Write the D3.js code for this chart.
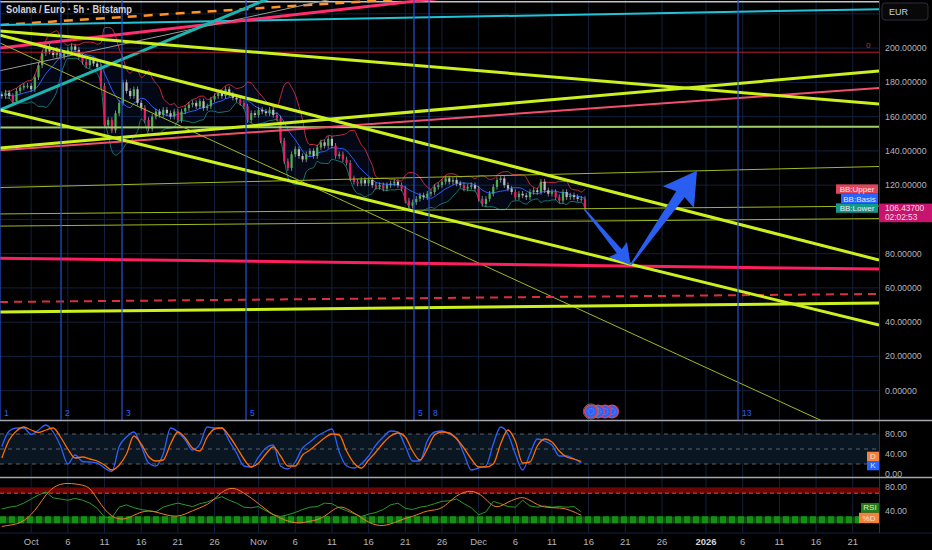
<!DOCTYPE html>
<html><head><meta charset="utf-8">
<script src="https://cdn.jsdelivr.net/npm/d3@7"></script>
<style>
body{margin:0;background:#000;overflow:hidden}
text{font-family:"Liberation Sans",Arial,sans-serif}
</style></head>
<body><svg id="c" width="932" height="550"></svg>
<script>
// ---------------- DATA ----------------
const title = "Solana / Euro · 5h · Bitstamp";
const domainStart = "2025-09-26T18:00Z";
const domainEnd = "2026-01-24T14:00Z";
const barStart = "2025-09-26T12:00Z";   // 12h bars
const closes = [
 173,172,174,172,169,175,177,178,178,176,
 183,190,197,201,198,196,199,195,197,199,
 201,199,195,192,190,193,191,189,178,155,
 158,152,162,168,180,175,172,176,168,165,
 158,153,160,163,161,164,162,160,163,158,
 163,165,167,168,166,169,165,166,170,172,
 174,172,176,173,171,170,168,166,158,162,
 161,164,163,162,164,161,159,146,134,130,
 138,141,137,135,138,140,137,142,145,143,
 147,143,137,138,135,133,124,122,121,123,
 121,123,120,119,120,118,120,121,122,120,
 118,111,108,110,112,114,113,115,116,119,
 120,122,124,122,123,121,120,118,119,120,
 118,112,109,112,115,119,123,124,120,118,
 116,113,115,114,113,116,117,116,122,117,
 115,116,113,111,116,113,114,113,112,112,106.437
];
const lastPriceText = "106.43700";
const countdownText = "02:02:53";
const oscStart = "2025-09-27T00:00Z";   // daily oscillator samples
const stochK = [55,86,92,92,79,88,98,84,56,20,38,25,24,22,12,5,55,74,84,56,22,16,40,92,84,68,48,60,94,92,92,66,42,16,14,34,52,58,16,10,24,52,64,76,84,90,44,16,12,20,36,58,74,86,84,56,26,26,66,84,86,80,72,40,8,12,16,60,94,80,40,8,40,70,66,58,36,36,30,22];
const stochD = [32,68,86,94,88,83,88,92,74,50,32,34,30,26,18,8,18,40,76,60,35,26,28,60,84,72,52,46,74,90,92,76,54,30,14,22,40,54,36,16,16,38,48,60,72,80,78,46,22,12,28,44,62,76,82,74,46,28,50,78,84,82,70,52,30,14,14,20,60,88,66,22,24,56,70,64,46,34,30,25];
const rsiVals = [43,46,48,53,60,67,72,62,60,58,61,58,53,44,29,28,46,50,45,42,40,38,46,50,53,50,47,52,55,60,64,58,53,46,45,47,40,33,30,33,37,42,46,47,53,52,45,40,35,30,34,37,42,50,53,44,42,46,48,52,56,57,60,52,45,33,38,56,52,47,46,58,48,46,48,46,47,46,47,38];
const rsiSmooth = [13,15,17,22,33,48,68,80,86,87,86,84,80,60,42,30,25,26,32,38,40,38,34,31,30,34,40,45,50,60,72,79,78,70,62,52,42,33,27,22,19,19,22,24,30,40,48,44,36,28,20,15,14,17,22,27,30,35,40,41,44,55,66,72,74,70,60,46,47,55,60,64,58,50,46,45,45,43,38,32];
const priceTicks = [0,20,40,60,80,100,120,140,160,180,200,220];
const priceLabels = [0,20,40,60,80,100,120,140,160,180,200];
const stochTicks = [80,40,0];
const rsiTicks = [80,40];
const dateTicks = ["2025-10-01","2025-10-06","2025-10-11","2025-10-16","2025-10-21","2025-10-26","2025-11-01","2025-11-06","2025-11-11","2025-11-16","2025-11-21","2025-11-26","2025-12-01","2025-12-06","2025-12-11","2025-12-16","2025-12-21","2025-12-26","2026-01-01","2026-01-06","2026-01-11","2026-01-16","2026-01-21"];
const dateLabels = ["Oct","6","11","16","21","26","Nov","6","11","16","21","26","Dec","6","11","16","21","26","2026","6","11","16","21"];
// trend lines: price at domain start / domain end, and kind
const lineStart = [227.1,213.5,213.5,200.1,186.8,163.9,197.6,153.6,140.4,118.6,103.2,96.1,203.0,77.4,51.8,210.0,207.6,141.7,163.9,45.9];
const lineEnd   = [227.1,246.8,222.7,258.0,297.7,376.8,197.6,154.1,176.7,130.9,107.8,100.5,-32.9,71.0,56.5,167.4,76.3,186.6,38.3,51.2];
const lineKind  = ["gray","orangeDash","cyan","pink","grayThin","teal","redThin","lightGreen","pinkMid","olive","olive","olive","olive","pinkThick","redDash","lime","lime","lime","lime","lime"];
const fibDates = ["2025-09-26T18:00Z","2025-10-05T01:40Z","2025-10-13T09:10Z","2025-10-30T07:00Z","2025-11-22T04:30Z","2025-11-24T05:45Z","2026-01-05T08:40Z"];
const fibLabels = ["1","2","3","5","5","8","13"];
const arrowFrom = [["2025-12-15T12:15Z",105.5],["2025-12-21T17:30Z",73.4]];
const arrowTo   = [["2025-12-21T17:30Z",73.4],["2025-12-30T18:30Z",128.4]];
const bbPeriod = 8, bbMult = 2;

// ---------------- STYLES ----------------
const lineStyle = {
 gray:{c:"#c4c4c4",w:1.5}, orangeDash:{c:"#ff9326",w:2.5,d:"9,7"}, cyan:{c:"#22c3d6",w:2},
 pink:{c:"#ff2e6e",w:3}, grayThin:{c:"#9a9a9a",w:1}, teal:{c:"#1bb5b0",w:3},
 redThin:{c:"#b3202e",w:1}, lightGreen:{c:"#9fce6a",w:2}, pinkMid:{c:"#f0506e",w:2},
 olive:{c:"#a3b81c",w:1}, pinkThick:{c:"#ff1f5f",w:3}, redDash:{c:"#d9303f",w:2,d:"8,6"},
 lime:{c:"#ccf01e",w:3}
};
const gridC = "#13203d", axisTxt = "#b2b5be";

// ---------------- SCALES ----------------
const parse = d3.utcParse("%Y-%m-%dT%H:%MZ");
const parseDay = d3.utcParse("%Y-%m-%d");
const PW = 879;
const x = d3.scaleUtc().domain([parse(domainStart), parse(domainEnd)]).range([0, PW]);
const y = d3.scaleLinear().domain([-17.1, 228.1]).range([420, 0]);
const yS = d3.scaleLinear().domain([0, 100]).range([474, 424]);
const yR = d3.scaleLinear().domain([0, 100]).range([534, 475.7]);
const H12 = 12*3600e3, D1 = 24*3600e3;
const t0 = parse(barStart).getTime(), o0 = parse(oscStart).getTime();

const svg = d3.select("#c");
svg.append("rect").attr("width",932).attr("height",550).attr("fill","#000");
const defs = svg.append("defs");
function clip(id,x0,y0,w,h){defs.append("clipPath").attr("id",id).append("rect").attr("x",x0).attr("y",y0).attr("width",w).attr("height",h);}
clip("cm",0,0,PW,420); clip("cs",0,421,PW,56); clip("cr",0,478,PW,54.5);

// grid
const g = svg.append("g");
g.selectAll(".hg").data(priceTicks).join("line").attr("x1",0).attr("x2",PW)
 .attr("y1",d=>y(d)).attr("y2",d=>y(d)).attr("stroke",gridC).attr("stroke-width",1);
g.selectAll(".vg").data(dateTicks).join("line").attr("x1",d=>x(parseDay(d))).attr("x2",d=>x(parseDay(d)))
 .attr("y1",0).attr("y2",533).attr("stroke",gridC).attr("stroke-width",1);
g.append("line").attr("x1",0).attr("x2",932).attr("y1",533).attr("y2",533).attr("stroke",gridC);
g.append("line").attr("x1",PW+0.5).attr("x2",PW+0.5).attr("y1",0).attr("y2",533).attr("stroke","#1b3360");

// ---------------- MAIN PANE ----------------
const main = svg.append("g").attr("clip-path","url(#cm)");
const bars = closes.map((c,i)=>{const o = i>0?closes[i-1]:c; return {t:new Date(t0+i*H12), o, c};});
// Bollinger bands
const bb = bars.map((b,i)=>{
 if(i<2) return null;
 const win = closes.slice(Math.max(0,i-bbPeriod+1), i+1);
 const m = d3.mean(win), s = d3.deviation(win);
 return {t:b.t, m, u:m+bbMult*s, l:m-bbMult*s};
}).filter(Boolean);
main.append("path").datum(bb).attr("fill","rgba(41,98,255,0.08)")
 .attr("d",d3.area().x(d=>x(d.t)).y0(d=>y(d.l)).y1(d=>y(d.u)).curve(d3.curveMonotoneX));
const bl = k=>d3.line().x(d=>x(d.t)).y(d=>y(d[k])).curve(d3.curveMonotoneX);
main.append("path").datum(bb).attr("fill","none").attr("stroke","#c62a3c").attr("stroke-width",1).attr("d",bl("u"));
main.append("path").datum(bb).attr("fill","none").attr("stroke","#2962ff").attr("stroke-width",1).attr("d",bl("m"));
main.append("path").datum(bb).attr("fill","none").attr("stroke","#16786d").attr("stroke-width",1).attr("d",bl("l"));
const bbAt = new Map(bb.map(d=>[+d.t,d]));
// candles
const cg = main.append("g");
bars.forEach((b,i)=>{
 const cx = x(b.t), hi = Math.max(b.o,b.c)+1.6, lo = Math.min(b.o,b.c)-1.6;
 const band = bbAt.get(+b.t);
 const up = b.c>=b.o;
 const col = up ? "#4caf50" : (band && b.c < band.m - (band.m-band.l)*0.6 ? "#e91e63" : "#bdbdbd");
 cg.append("line").attr("x1",cx).attr("x2",cx).attr("y1",y(hi)).attr("y2",y(lo)).attr("stroke","#9e9e9e").attr("stroke-width",0.8);
 const top = y(Math.max(b.o,b.c)), h = Math.max(1, Math.abs(y(b.o)-y(b.c)));
 cg.append("rect").attr("x",cx-1.1).attr("y",top).attr("width",2.2).attr("height",h).attr("fill",col);
});
// trend lines
const tA = parse(domainStart), tB = parse(domainEnd);
lineKind.forEach((k,i)=>{
 const s = lineStyle[k];
 main.append("line").attr("x1",x(tA)).attr("y1",y(lineStart[i])).attr("x2",x(tB)).attr("y2",y(lineEnd[i]))
  .attr("stroke",s.c).attr("stroke-width",s.w).attr("stroke-dasharray",s.d||null).attr("stroke-linecap","butt");
});
// fib time zones
fibDates.forEach((d,i)=>{
 const fx = x(parse(d));
 main.append("line").attr("x1",fx).attr("x2",fx).attr("y1",0).attr("y2",420).attr("stroke","#2453d6").attr("stroke-width",1.2);
 main.append("text").attr("x",fx+4).attr("y",416).attr("fill","#2962ff").attr("font-size",8.5).text(fibLabels[i]);
});
// arrows
function arrowPts(x0,y0,x1,y1){
 const dx=x1-x0, dy=y1-y0, L=Math.hypot(dx,dy), ux=dx/L, uy=dy/L, nx=-uy, ny=ux;
 const h=0.25*L, hw=0.165*L, nk=0.045*L, tl=0.8;
 const bx=x1-ux*h, by=y1-uy*h, wx=x1-ux*(h+0.03*L), wy=y1-uy*(h+0.03*L);
 return [[x0+nx*tl,y0+ny*tl],[bx+nx*nk,by+ny*nk],[wx+nx*hw,wy+ny*hw],[x1,y1],[wx-nx*hw,wy-ny*hw],[bx-nx*nk,by-ny*nk],[x0-nx*tl,y0-ny*tl]];
}
arrowFrom.forEach((f,i)=>{
 const t = arrowTo[i];
 const pts = arrowPts(x(parse(f[0])),y(f[1]),x(parse(t[0])),y(t[1]));
 main.append("polygon").attr("points",pts.map(p=>p.join(",")).join(" ")).attr("fill","#2a5ef0");
});
// event icons
const lastX = x(bars[bars.length-1].t);
[27,20,13,6].forEach((dx,k)=>{
 const cx = lastX+dx, cy = 411.5;
 main.append("circle").attr("cx",cx).attr("cy",cy).attr("r",6.3).attr("fill","#2962ff").attr("stroke","#e0405a").attr("stroke-width",1.6);
 main.append("circle").attr("cx",cx).attr("cy",cy).attr("r",3).attr("fill","none").attr("stroke","#8aa0c8").attr("stroke-width",0.8).attr("stroke-dasharray","1,1");
});
main.append("circle").attr("cx",lastX+6).attr("cy",411.5).attr("r",7.6).attr("fill","none").attr("stroke","#888").attr("stroke-width",0.8);
// red "0" label
main.append("text").attr("x",866).attr("y",y(197.6)-4).attr("fill","#c23040").attr("font-size",8).text("0");
// title
svg.append("text").attr("x",6).attr("y",13).attr("fill","#d1d4dc").attr("font-size",10).attr("font-weight",600)
 .attr("textLength",126).attr("lengthAdjust","spacingAndGlyphs").text(title);

// ---------------- STOCH PANE ----------------
const sg = svg.append("g").attr("clip-path","url(#cs)");
sg.append("rect").attr("x",0).attr("width",PW).attr("y",yS(80)).attr("height",yS(20)-yS(80)).attr("fill","#0a1622");
[80,50,20].forEach(v=>sg.append("line").attr("x1",0).attr("x2",PW).attr("y1",yS(v)).attr("y2",yS(v)).attr("stroke","#5d606b").attr("stroke-dasharray","4,4"));
const oscT = i=>x(new Date(o0+i*D1));
sg.append("path").datum(stochK).attr("fill","none").attr("stroke","#2962ff").attr("stroke-width",1.3)
 .attr("d",d3.line().x((d,i)=>oscT(i)).y(d=>yS(d)).curve(d3.curveMonotoneX));
sg.append("path").datum(stochD).attr("fill","none").attr("stroke","#ff6d00").attr("stroke-width",1.3)
 .attr("d",d3.line().x((d,i)=>oscT(i)).y(d=>yS(d)).curve(d3.curveMonotoneX));

// ---------------- RSI PANE ----------------
const rg = svg.append("g").attr("clip-path","url(#cr)");
rg.append("rect").attr("x",0).attr("width",PW).attr("y",yR(80)).attr("height",yR(70)-yR(80)).attr("fill","#6a0606");
rg.append("line").attr("x1",0).attr("x2",PW).attr("y1",yR(70)).attr("y2",yR(70)).attr("stroke","#e04848").attr("stroke-dasharray","4,3");
rg.append("rect").attr("x",0).attr("width",PW).attr("y",yR(30)).attr("height",yR(18.5)-yR(30)).attr("fill","#0a4d0a");
rg.append("line").attr("x1",0).attr("x2",PW).attr("y1",(yR(30)+yR(18.5))/2).attr("y2",(yR(30)+yR(18.5))/2)
 .attr("stroke","#178f17").attr("stroke-width",7).attr("stroke-dasharray","6,3");
rg.append("path").datum(rsiVals).attr("fill","none").attr("stroke","#2a9a2a").attr("stroke-width",1)
 .attr("d",d3.line().x((d,i)=>oscT(i)).y(d=>yR(d)));
rg.append("path").datum(rsiSmooth).attr("fill","none").attr("stroke","#f07c2a").attr("stroke-width",1)
 .attr("d",d3.line().x((d,i)=>oscT(i)).y(d=>yR(d)).curve(d3.curveBasis));

// pane separators
[420.5,477.5].forEach(v=>svg.append("line").attr("x1",0).attr("x2",932).attr("y1",v).attr("y2",v).attr("stroke","#a3a6af").attr("stroke-width",1.3));

// ---------------- AXES ----------------
const lp = closes[closes.length-1];
const lpY = y(lp);
const ax = svg.append("g").attr("font-size",8.8).attr("fill",axisTxt);
// axis labels hidden behind the last-price tag are skipped, like the platform does
priceLabels.filter(v=>Math.abs(y(v)-(lpY+4.5))>13).forEach(v=>ax.append("text").attr("x",885).attr("y",y(v)+3).text(d3.format(".5f")(v)));
stochTicks.forEach(v=>ax.append("text").attr("x",885).attr("y",yS(v)+3).text(d3.format(".2f")(v)));
rsiTicks.forEach(v=>ax.append("text").attr("x",885).attr("y",yR(v)+3).text(d3.format(".2f")(v)));
dateTicks.forEach((d,i)=>{
 const yr = dateLabels[i]==="2026";
 ax.append("text").attr("x",x(parseDay(d))).attr("y",545).attr("text-anchor","middle")
  .attr("font-size",9.5).attr("font-weight",yr?"bold":null).attr("fill",yr?"#d1d4dc":axisTxt).text(dateLabels[i]);
});
// EUR box
svg.append("rect").attr("x",882).attr("y",3).attr("width",46).attr("height",17).attr("rx",3).attr("fill","#080808").attr("stroke","#2a2e39");
svg.append("text").attr("x",889).attr("y",14.5).attr("font-size",9).attr("fill","#d1d4dc").text("EUR");
// last price label
svg.append("rect").attr("x",PW).attr("y",lpY-4.8).attr("width",53).attr("height",18.6).attr("fill","#c8146e");
svg.append("text").attr("x",885).attr("y",lpY+3.1).attr("font-size",8.3).attr("fill","#ffd6e6").text(lastPriceText);
svg.append("text").attr("x",885).attr("y",lpY+12.1).attr("font-size",8.3).attr("fill","#ffd6e6").text(countdownText);
// BB labels
const lb = bb[bb.length-1];
const bbLab = [{t:"BB:Upper",v:lb.u,c:"#e0455a",w:42},{t:"BB:Basis",v:lb.m,c:"#2962ff",w:37},{t:"BB:Lower",v:lb.l,c:"#12998b",w:42}];
let prev = -1e9;
bbLab.forEach(o=>{ let cy = Math.max(y(o.v), prev+9.5); prev = cy; o.cy = cy; });
bbLab.forEach(o=>{
 svg.append("rect").attr("x",PW-1-o.w).attr("y",o.cy-4.7).attr("width",o.w).attr("height",9.4).attr("fill",o.c);
 svg.append("text").attr("x",PW-1-o.w/2).attr("y",o.cy+3).attr("text-anchor","middle").attr("font-size",8).attr("fill","#f0e6ea").text(o.t);
});
// pane value tags
function tag(x0,y0,w,h,c,t){svg.append("rect").attr("x",x0).attr("y",y0).attr("width",w).attr("height",h).attr("fill",c);
 svg.append("text").attr("x",x0+w/2).attr("y",y0+h-2.3).attr("text-anchor","middle").attr("font-size",8).attr("fill","#f3e6c8").text(t);}
const sd = yS(stochD[stochD.length-1]), rr = yR(rsiVals[rsiVals.length-1]);
tag(867,sd-9.8,12,9.3,"#f5823a","D");
tag(867,sd-0.5,12,9.3,"#2962ff","K");
tag(861,rr-8.8,18,9.7,"#1e7d1e","RSI");
tag(859,rr+0.9,20,10.3,"#f5823a","%D");
</script></body></html>
